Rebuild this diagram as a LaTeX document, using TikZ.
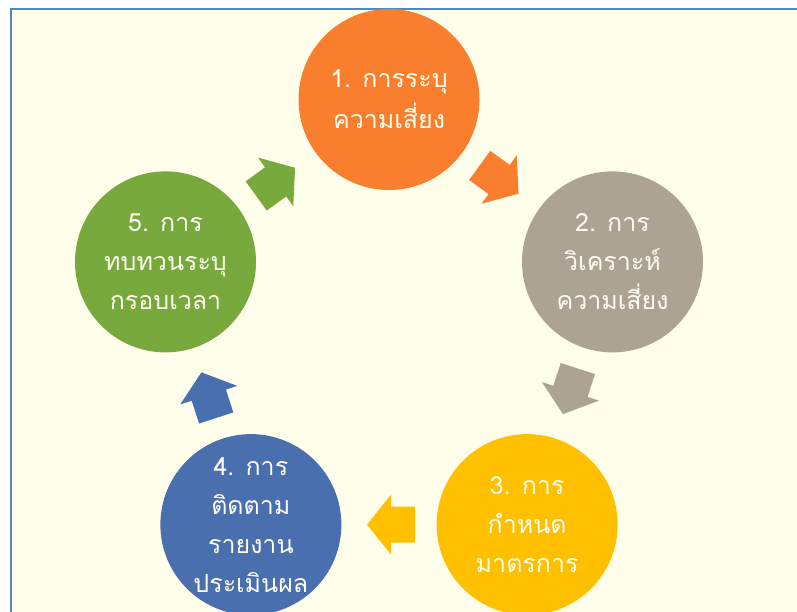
\documentclass[tikz,border=0pt]{standalone}
\usepackage{fontspec}
\newfontfamily\thaifont[Script=Thai]{Loma}
\usetikzlibrary{calc}
\definecolor{bgivory}{HTML}{FFFEEB}
\definecolor{frameblue}{HTML}{4F86C6}
\definecolor{riskorange}{HTML}{F97F2E}
\definecolor{riskgray}{HTML}{ADA393}
\definecolor{riskyellow}{HTML}{FFC000}
\definecolor{riskblue}{HTML}{4A6FAF}
\definecolor{riskgreen}{HTML}{78A93C}
\definecolor{labeltext}{HTML}{FFFDF0}
\tikzset{
  stage/.style={circle, minimum size=181pt, inner sep=0pt, text=labeltext,
    align=center, font=\thaifont\fontsize{25}{39}\selectfont},
  blockarrow/.style={fill=#1, draw=none}
}
\begin{document}
\begin{tikzpicture}[x=1pt,y=1pt]
\useasboundingbox (0,0) rectangle (797,611);
\clip (0,0) rectangle (797,611);
\fill[white] (0,0) rectangle (797,611);
\filldraw[fill=bgivory, draw=frameblue, line width=1.5pt] (11,-10) rectangle (810,602);
\coordinate (ctr) at (389,276.5);
% the five stages
\node[stage, fill=riskorange, font=\thaifont\fontsize{25}{41}\selectfont] (s1) at ([shift={(90:235)}]ctr) {1. การระบุ\\ความเสี่ยง};
\node[stage, fill=riskgray] (s2) at ([shift={(18:235)}]ctr) {2. การ\\วิเคราะห์\\ความเสี่ยง};
\node[stage, fill=riskyellow] (s3) at ([shift={(-54:235)}]ctr) {3. การ\\กำหนด\\มาตรการ};
\node[stage, fill=riskblue] (s4) at ([shift={(-126:235)}]ctr) {4. การ\\ติดตาม\\รายงาน\\ประเมินผล};
\node[stage, fill=riskgreen] (s5) at ([shift={(162:235)}]ctr) {5. การ\\ทบทวนระบุ\\กรอบเวลา};
% block arrows between stages
\foreach \a/\b/\c/\ang in {s1/s2/riskorange/-36, s2/s3/riskgray/-108, s3/s4/riskyellow/180,
    s4/s5/riskblue/108, s5/s1/riskgreen/36}
  \path[blockarrow=\c, shift={($(\a)!0.5!(\b)$)}, rotate=\ang]
    (-26,-18) -- (-2,-18) -- (-2,-30) -- (22,0) -- (-2,30) -- (-2,18) -- (-26,18) -- cycle;
\end{tikzpicture}
\end{document}
